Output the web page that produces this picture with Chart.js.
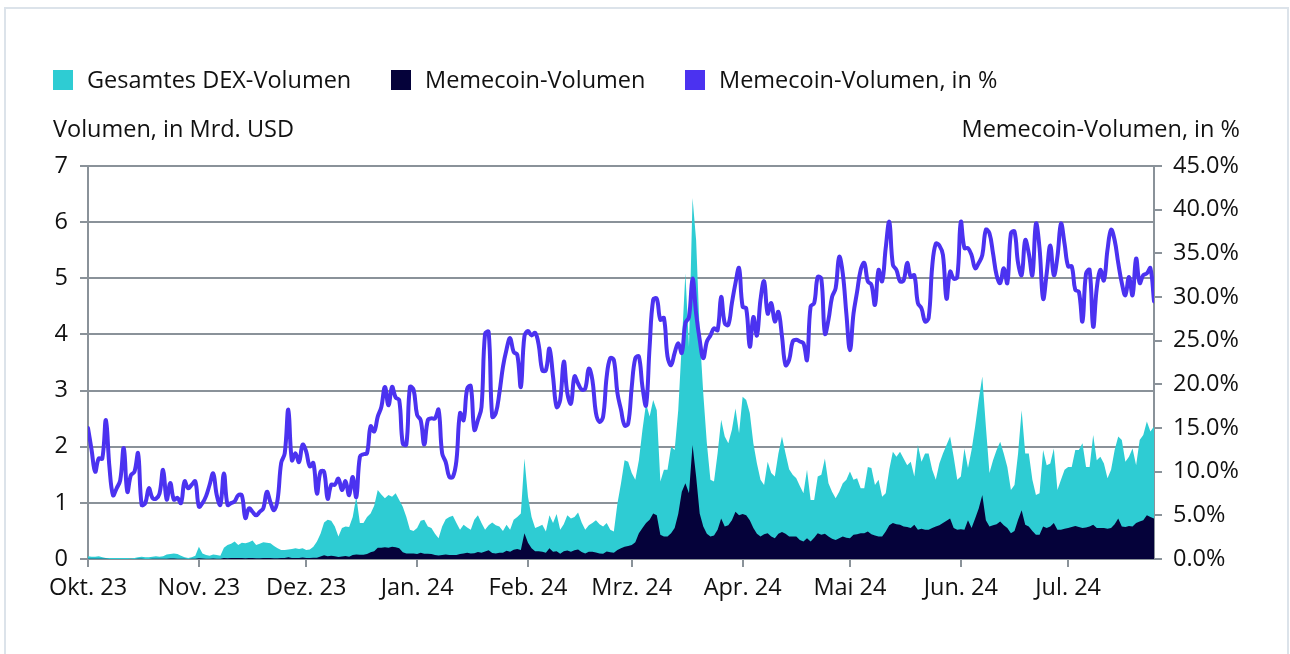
<!DOCTYPE html>
<html>
<head>
<meta charset="utf-8">
<script src="https://cdn.jsdelivr.net/npm/chart.js@4.4.1/dist/chart.umd.min.js"></script>
<style>
html,body{margin:0;padding:0;background:#fff;}
#wrap{position:relative;width:1290px;height:654px;}
</style>
</head>
<body>
<div id="wrap"><canvas id="c" width="1290" height="654"></canvas></div>
<script>
// ---- Data (daily, 1 Oct 2023 = day 0 ... 25 Jul 2024 = day 298) ----
const monthTickDays = [0, 31, 61, 92, 123, 152, 183, 213, 244, 274];
const monthTickLabels = ['Okt. 23','Nov. 23','Dez. 23','Jan. 24','Feb. 24','Mrz. 24','Apr. 24','Mai 24','Jun. 24','Jul. 24'];
const seriesNames = ['Gesamtes DEX-Volumen', 'Memecoin-Volumen', 'Memecoin-Volumen, in %'];
const leftAxisTitle = 'Volumen, in Mrd. USD';
const rightAxisTitle = 'Memecoin-Volumen, in %';

// Gesamtes DEX-Volumen, Mrd. USD
const totalDexVolume = [
  0.05,0.04,0.04,0.05,0.03,0.02,0.02,0.02,0.02,0.02,
  0.02,0.02,0.01,0.02,0.03,0.04,0.03,0.03,0.04,0.05,
  0.04,0.05,0.08,0.09,0.10,0.09,0.06,0.03,0.02,0.03,
  0.06,0.22,0.10,0.07,0.06,0.08,0.07,0.06,0.20,0.25,
  0.27,0.31,0.25,0.29,0.28,0.30,0.33,0.25,0.27,0.30,
  0.29,0.28,0.23,0.19,0.16,0.16,0.17,0.18,0.19,0.18,
  0.19,0.16,0.17,0.22,0.31,0.45,0.65,0.70,0.68,0.58,
  0.40,0.55,0.58,0.57,0.75,1.11,0.64,0.64,0.75,0.81,
  0.95,1.23,1.15,1.08,1.14,1.11,1.17,1.05,0.93,0.75,
  0.52,0.50,0.55,0.68,0.70,0.58,0.55,0.45,0.37,0.58,
  0.71,0.75,0.77,0.64,0.52,0.61,0.56,0.52,0.70,0.78,
  0.64,0.52,0.60,0.65,0.60,0.58,0.50,0.61,0.52,0.70,
  0.75,0.81,1.79,1.11,0.75,0.55,0.58,0.61,0.49,0.78,
  0.64,0.80,0.52,0.62,0.78,0.72,0.75,0.83,0.65,0.52,
  0.60,0.64,0.69,0.62,0.58,0.64,0.52,0.49,0.99,1.35,
  1.76,1.73,1.53,1.41,1.76,2.30,2.77,2.54,2.83,2.65,
  1.38,1.59,1.59,2.00,1.94,2.65,3.84,5.09,3.78,6.43,
  5.68,4.02,2.95,2.06,1.41,1.38,1.88,2.48,2.18,2.06,
  2.30,2.68,2.24,2.89,2.83,2.60,2.06,1.70,1.41,1.32,
  1.73,1.53,1.47,1.88,2.18,1.88,1.60,1.50,1.44,1.30,
  1.17,1.59,1.05,1.05,1.47,1.50,1.79,1.35,1.20,1.08,
  1.20,1.35,1.41,1.56,1.41,1.44,1.26,1.26,1.64,1.62,
  1.32,1.41,1.11,1.17,1.60,1.91,1.82,1.91,1.79,1.67,
  1.73,1.47,2.03,1.73,1.88,1.88,1.59,1.41,1.70,1.88,
  2.03,2.18,1.82,1.41,1.47,1.97,1.62,1.94,2.36,2.83,
  3.25,2.36,1.53,1.76,1.94,2.09,1.88,1.64,1.23,1.32,
  1.88,2.65,1.88,1.88,1.41,1.14,1.17,1.94,1.67,1.70,
  1.97,1.23,1.41,1.59,1.64,1.64,1.94,1.94,2.06,1.64,
  1.64,2.21,1.76,1.82,1.70,1.44,1.59,1.94,2.18,2.12,
  1.73,1.82,1.97,1.67,2.12,2.21,2.45,2.27,2.36
];

// Memecoin-Volumen, Mrd. USD
const memecoinVolume = [
  0.006,0.005,0.004,0.005,0.003,0.003,0.002,0.002,0.002,0.002,
  0.002,0.002,0.001,0.002,0.003,0.003,0.002,0.002,0.003,0.003,
  0.003,0.004,0.006,0.008,0.007,0.006,0.004,0.003,0.002,0.003,
  0.005,0.014,0.007,0.005,0.005,0.008,0.005,0.004,0.020,0.015,
  0.017,0.020,0.018,0.020,0.014,0.017,0.018,0.013,0.015,0.017,
  0.020,0.018,0.013,0.013,0.018,0.020,0.030,0.020,0.020,0.020,
  0.025,0.020,0.018,0.024,0.023,0.045,0.065,0.050,0.058,0.050,
  0.037,0.043,0.052,0.042,0.070,0.080,0.075,0.077,0.090,0.120,
  0.14,0.20,0.20,0.21,0.20,0.22,0.21,0.19,0.12,0.10,
  0.10,0.097,0.09,0.11,0.092,0.092,0.089,0.072,0.063,0.07,
  0.079,0.07,0.072,0.072,0.087,0.097,0.11,0.10,0.104,0.124,
  0.11,0.134,0.156,0.106,0.10,0.11,0.11,0.146,0.13,0.166,
  0.176,0.16,0.46,0.29,0.19,0.14,0.14,0.13,0.11,0.19,
  0.13,0.14,0.095,0.14,0.15,0.128,0.157,0.167,0.126,0.10,
  0.13,0.13,0.115,0.097,0.095,0.134,0.12,0.11,0.16,0.19,
  0.22,0.23,0.25,0.30,0.46,0.55,0.64,0.70,0.81,0.78,
  0.43,0.40,0.40,0.46,0.55,0.80,1.20,1.35,1.17,2.03,
  1.47,0.81,0.58,0.45,0.40,0.42,0.52,0.72,0.58,0.60,
  0.69,0.84,0.78,0.80,0.78,0.69,0.55,0.45,0.40,0.44,
  0.46,0.40,0.37,0.45,0.48,0.45,0.40,0.40,0.40,0.34,
  0.31,0.37,0.31,0.38,0.46,0.43,0.45,0.40,0.36,0.34,
  0.37,0.40,0.38,0.37,0.43,0.44,0.46,0.46,0.49,0.44,
  0.42,0.40,0.40,0.49,0.60,0.64,0.62,0.61,0.58,0.57,
  0.55,0.61,0.52,0.54,0.52,0.52,0.55,0.58,0.60,0.64,
  0.68,0.72,0.55,0.52,0.53,0.52,0.69,0.55,0.72,0.90,
  1.14,0.69,0.58,0.60,0.62,0.67,0.60,0.55,0.46,0.50,
  0.70,0.87,0.61,0.58,0.50,0.43,0.43,0.58,0.55,0.58,
  0.64,0.52,0.52,0.54,0.55,0.57,0.59,0.57,0.55,0.56,
  0.58,0.61,0.55,0.55,0.55,0.54,0.55,0.62,0.72,0.58,
  0.57,0.59,0.58,0.64,0.67,0.69,0.78,0.75,0.72
];

// Memecoin-Volumen, in % des DEX-Volumens
const memecoinShare = [
  15.0,12.5,10.0,11.5,11.5,15.9,10.5,7.3,8.1,9.0,
  12.7,7.7,9.6,10.0,12.1,6.2,6.4,8.1,7.0,6.9,
  7.5,10.2,6.8,8.7,6.8,7.0,6.4,8.9,8.1,8.5,
  8.9,6.0,6.4,7.2,8.5,9.8,7.3,6.2,9.8,6.2,
  6.4,6.6,7.3,7.3,4.7,5.8,5.4,5.0,5.4,5.8,
  7.7,6.5,5.6,6.8,11.0,12.1,17.1,11.3,12.1,11.1,
  13.1,12.3,10.6,11.0,7.5,10.0,10.0,6.9,8.5,8.5,
  9.2,7.9,8.9,7.3,9.4,7.1,11.7,12.0,12.1,15.2,
  14.6,16.3,17.4,19.7,17.6,19.7,18.5,18.2,13.2,13.1,
  19.7,19.4,16.5,15.9,13.1,15.9,16.1,16.1,17.1,12.1,
  11.1,9.4,9.4,11.3,16.7,15.9,19.5,19.8,14.8,15.9,
  17.4,25.8,26.0,16.3,16.7,19.0,22.0,24.0,25.3,23.7,
  23.4,19.7,25.5,26.1,25.6,25.9,24.5,21.6,21.6,24.1,
  20.9,17.4,18.2,22.6,19.0,17.8,20.9,20.1,19.4,19.5,
  21.8,20.5,16.7,15.7,16.3,20.9,23.0,22.8,19.0,17.1,
  15.3,15.5,19.7,23.0,23.2,19.7,17.6,24.3,29.7,29.8,
  27.4,27.6,23.2,22.2,23.6,24.7,23.6,27.0,27.7,32.1,
  28.1,25.1,23.0,24.9,25.6,26.4,26.2,30.0,27.0,26.8,
  29.3,31.6,33.3,28.9,28.7,24.3,27.7,25.6,29.7,31.8,
  28.1,29.3,27.2,28.3,25.5,22.2,22.8,24.9,25.1,24.9,
  24.7,22.8,28.9,29.3,32.3,32.1,25.8,27.4,30.0,31.0,
  34.6,32.7,28.1,23.9,28.1,30.6,33.1,33.9,31.8,31.4,
  29.1,33.1,31.8,35.6,38.6,33.7,33.1,31.8,31.9,33.9,
  32.3,32.5,29.3,28.7,27.2,27.6,33.5,36.1,35.9,34.8,
  29.8,32.9,32.1,32.3,38.6,35.6,35.6,34.8,33.3,33.9,
  34.8,37.7,37.3,35.0,32.5,31.6,33.3,31.6,37.3,37.5,
  33.9,32.5,36.5,35.0,32.5,38.4,35.6,29.8,32.7,35.9,
  32.5,34.6,38.4,36.1,33.5,33.5,30.8,30.6,27.2,32.7,
  33.1,26.6,31.0,33.1,31.9,35.4,37.7,36.5,33.9,31.6,
  30.2,32.3,30.2,34.4,31.6,32.5,32.7,33.3,29.5
];

// ---- Styling ----
const TEAL = '#2ECCD3';
const NAVY = '#05023A';
const PURPLE = '#4B32F0';
const GRID = '#8a9299';
const TEXT = '#111111';
const FONT = '"Open Sans"';
const FS = 23.5;

const toPoints = arr => arr.map((v, i) => ({ x: i, y: v }));

const decorPlugin = {
  id: 'decor',
  beforeDraw(chart) {
    const c = chart.ctx;
    c.save();
    c.fillStyle = '#ffffff';
    c.fillRect(0, 0, chart.width, chart.height);
    c.strokeStyle = '#dce3ea';
    c.lineWidth = 2;
    c.strokeRect(5, 8, 1283, 700);
    c.restore();
  },
  afterDraw(chart) {
    const c = chart.ctx;
    c.save();
    c.font = FS + 'px ' + FONT;
    c.fillStyle = TEXT;
    c.textBaseline = 'alphabetic';
    // legend
    const colors = [TEAL, NAVY, PURPLE];
    const boxX = [53, 391, 685];
    seriesNames.forEach((name, i) => {
      c.fillStyle = colors[i];
      c.fillRect(boxX[i], 70, 20, 20);
      c.fillStyle = TEXT;
      c.textAlign = 'left';
      c.fillText(name, boxX[i] + 34, 88);
    });
    // axis titles
    c.textAlign = 'left';
    c.fillText(leftAxisTitle, 53, 137);
    c.textAlign = 'right';
    c.fillText(rightAxisTitle, 1240, 137);
    c.restore();
  }
};

new Chart(document.getElementById('c'), {
  type: 'line',
  data: {
    datasets: [
      { label: seriesNames[0], data: toPoints(totalDexVolume), yAxisID: 'y',
        backgroundColor: TEAL, borderColor: TEAL, borderWidth: 0, fill: 'origin',
        pointRadius: 0, tension: 0, order: 3 },
      { label: seriesNames[1], data: toPoints(memecoinVolume), yAxisID: 'y',
        backgroundColor: NAVY, borderColor: NAVY, borderWidth: 0, fill: 'origin',
        pointRadius: 0, tension: 0, order: 2 },
      { label: seriesNames[2], data: toPoints(memecoinShare), yAxisID: 'y1',
        borderColor: PURPLE, backgroundColor: PURPLE, borderWidth: 4, fill: false,
        pointRadius: 0, tension: 0.4, order: 1, borderJoinStyle: 'round', borderCapStyle: 'round' }
    ]
  },
  options: {
    responsive: false,
    devicePixelRatio: 1,
    animation: false,
    events: [],
    layout: { padding: { top: 166, left: 0, right: 0, bottom: 0 } },
    plugins: { legend: { display: false }, tooltip: { enabled: false } },
    scales: {
      x: {
        type: 'linear', min: 0, max: totalDexVolume.length - 1,
        afterBuildTicks: s => { s.ticks = monthTickDays.map(v => ({ value: v })); },
        afterFit: s => { s.height = 95; },
        ticks: {
          autoSkip: false, maxRotation: 0, minRotation: 0, padding: 7,
          color: TEXT, font: { family: FONT, size: FS },
          callback: v => { const k = monthTickDays.indexOf(v); return k >= 0 ? monthTickLabels[k] : ''; }
        },
        grid: { drawOnChartArea: false, drawTicks: true, tickLength: 8, color: GRID, lineWidth: 2 },
        border: { display: true, color: GRID, width: 2 }
      },
      y: {
        position: 'left', min: 0, max: 7,
        afterFit: s => { s.width = 88; },
        ticks: { stepSize: 1, padding: 12, color: TEXT, font: { family: FONT, size: FS } },
        grid: { color: GRID, lineWidth: 2, tickLength: 8 },
        border: { display: true, color: GRID, width: 2 }
      },
      y1: {
        position: 'right', min: 0, max: 45,
        afterFit: s => { s.width = 136; },
        ticks: { stepSize: 5, padding: 11, color: TEXT, font: { family: FONT, size: FS },
                 callback: v => v.toFixed(1) + '%' },
        grid: { drawOnChartArea: false, color: GRID, lineWidth: 2, tickLength: 8 },
        border: { display: true, color: GRID, width: 2 }
      }
    }
  },
  plugins: [decorPlugin]
});
</script>
</body>
</html>
